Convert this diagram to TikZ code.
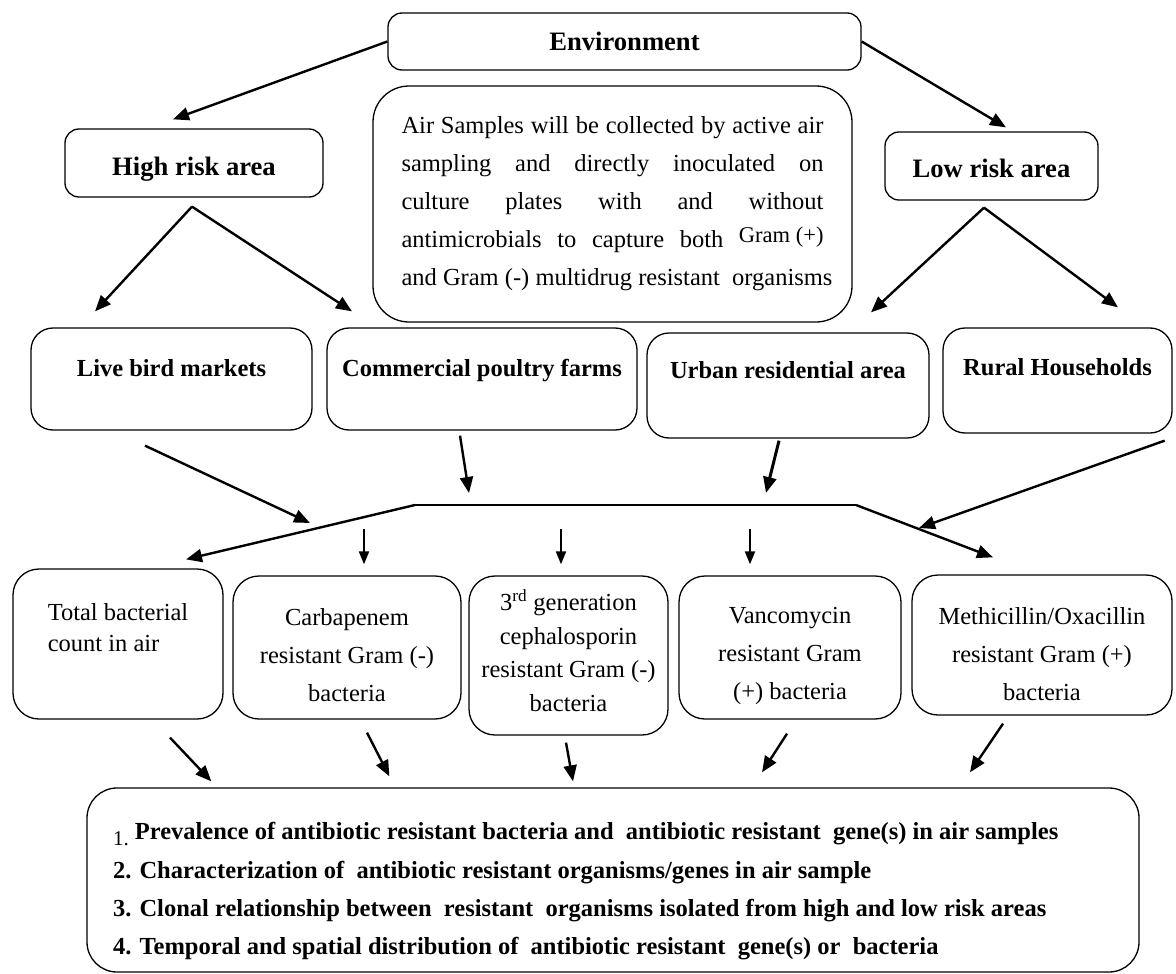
\documentclass[tikz,border=0pt]{standalone}
\usepackage{fontspec}
\setmainfont{Liberation Serif}
\usetikzlibrary{arrows.meta}

\begin{document}
\begin{tikzpicture}[x=1pt, y=-1pt, line width=1.3pt,
  box/.style={draw, rounded corners=14pt, align=center, inner sep=0pt, font=\fontsize{24.5}{38}\selectfont},
  head/.style={box, font=\bfseries\fontsize{26.6}{32}\selectfont},
  site/.style={box, rounded corners=22pt, minimum height=102pt, font=\bfseries\fontsize{24.5}{30}\selectfont},
  drug/.style={box, rounded corners=26pt},
  arr/.style={line width=2.4pt, -{Triangle[length=16pt,width=13pt]}},
  tick/.style={line width=2pt, -{Triangle[length=13pt,width=10pt]}}]
\useasboundingbox (0,0) rectangle (1176,974);

\node[head, minimum width=473pt, minimum height=57pt] (env) at (624.5,41.5) {Environment};
\node[head, minimum width=258pt, minimum height=68pt, text height=30pt] (high) at (194,163) {High risk area};
\node[head, minimum width=213pt, minimum height=68pt, text height=24pt] (low) at (991.5,166) {Low risk area};
\node[box, rounded corners=36pt, minimum width=479pt, minimum height=236pt, align=left] (air) at (612.5,204)
  {\makebox[422pt][s]{Air Samples will be collected by active air}\\
   \makebox[422pt][s]{sampling and directly inoculated on}\\
   \makebox[422pt][s]{culture plates with and without}\\
   \makebox[422pt][s]{antimicrobials to capture both \raisebox{5pt}{\fontsize{22.5}{22.5}\selectfont Gram (+)}}\\
   \makebox[422pt][l]{and Gram (-) multidrug resistant\ \ organisms}};

\node[site, minimum width=281pt, text depth=22.6pt] (live) at (171.5,379) {Live bird markets};
\node[site, minimum width=310pt, text depth=22.6pt] (comm) at (482,379) {Commercial poultry farms};
\node[site, minimum width=282pt, minimum height=105pt, text depth=31.6pt] (urban) at (788,385.5) {Urban residential area};
\node[site, minimum width=229pt, minimum height=105pt, text depth=27.6pt] (rural) at (1057.5,380.5) {Rural Households};

\coordinate (busl) at (415,505);
\coordinate (busr) at (856,505);

\node[drug, minimum width=210pt, minimum height=150pt, align=left, font=\fontsize{24.5}{31}\selectfont, text depth=33.6pt] (total) at (118,644) {Total bacterial\\count in air};
\node[drug, minimum width=228pt, minimum height=143pt, text height=109pt] (carb) at (347,647.5) {Carbapenem\\resistant Gram (-)\\bacteria};
\node[drug, minimum width=199pt, minimum height=159pt, font=\fontsize{24.5}{33.7}\selectfont, text depth=10pt] (third) at (568.5,655.5) {3\textsuperscript{rd} generation\\cephalosporin\\resistant Gram (-)\\bacteria};
\node[drug, minimum width=222pt, minimum height=143pt, text height=109pt] (vanc) at (790,647.5) {Vancomycin\\resistant Gram\\(+) bacteria};
\node[drug, minimum width=260pt, minimum height=140pt, text height=112pt] (meth) at (1042,645) {Methicillin/Oxacillin\\resistant Gram (+)\\bacteria};

\node[box, rounded corners=30pt, minimum width=1052pt, minimum height=184pt, align=left, font=\bfseries\fontsize{24.5}{38.3}\selectfont, text height=155pt] (result) at (613,880)
  {\makebox[1000pt][l]{\raisebox{-6pt}{\mdseries\fontsize{21}{21}\selectfont 1.} Prevalence of antibiotic resistant bacteria and\ \ antibiotic resistant\ \ gene(s) in air samples}\\
   \makebox[1000pt][l]{2. Characterization of\ \ antibiotic resistant organisms/genes in air sample}\\
   \makebox[1000pt][l]{3. Clonal relationship between\ \ resistant\ \ organisms isolated from high and low risk areas}\\
   \makebox[1000pt][l]{4. Temporal and spatial distribution of\ \ antibiotic resistant\ \ gene(s) or\ \ bacteria}};

\draw[arr] (env.west) -- ([shift={(-21,-9)}]high.north);
\draw[arr] (env.east) -- ([shift={(14.5,-4)}]low.north);
\draw[arr] ([shift={(-2,9)}]high.south) -- ([shift={(-76.5,-16)}]live.north);
\draw[arr] ([shift={(-2,9)}]high.south) -- ([shift={(-130,-16)}]comm.north);
\draw[arr] ([shift={(-7.5,7)}]low.south) -- ([shift={(83,-20)}]urban.north);
\draw[arr] ([shift={(-7.5,7)}]low.south) -- ([shift={(60.5,-20)}]rural.north);

\draw[arr] ([shift={(-26.5,15)}]live.south) -- ([shift={(-105,18)}]busl);
\draw[arr] ([shift={(-22,5)}]comm.south) -- ([shift={(54,-12)}]busl);
\draw[arr, line width=3pt] ([shift={(-9,2)}]urban.south) -- ([shift={(-90,-12)}]busr);
\draw[arr] ([shift={(-8,7)}]rural.south east) -- ([shift={(63,23)}]busr);
\draw (busl) -- (busr);
\draw[arr] (busl) -- ([shift={(68,-9)}]total.north);
\draw[arr] (busr) -- ([shift={(-49,-17)}]meth.north);
\draw[tick] ([shift={(17,-46)}]carb.north) -- ([shift={(17,-11)}]carb.north);
\draw[tick] ([shift={(-7.5,-46)}]third.north) -- ([shift={(-7.5,-11)}]third.north);
\draw[tick] ([shift={(-40,-46)}]vanc.north) -- ([shift={(-40,-11)}]vanc.north);

\draw[arr] ([shift={(52,18)}]total.south) -- ([shift={(125,-6)}]result.north west);
\draw[arr] ([shift={(20,13)}]carb.south) -- ([shift={(303,-11)}]result.north west);
\draw[arr] ([shift={(-2.5,7)}]third.south) -- ([shift={(-40,-6)}]result.north);
\draw[arr] ([shift={(-3,14)}]vanc.south) -- ([shift={(149,-15)}]result.north);
\draw[arr] ([shift={(-39,8)}]meth.south) -- ([shift={(357,-15)}]result.north);
\end{tikzpicture}
\end{document}
